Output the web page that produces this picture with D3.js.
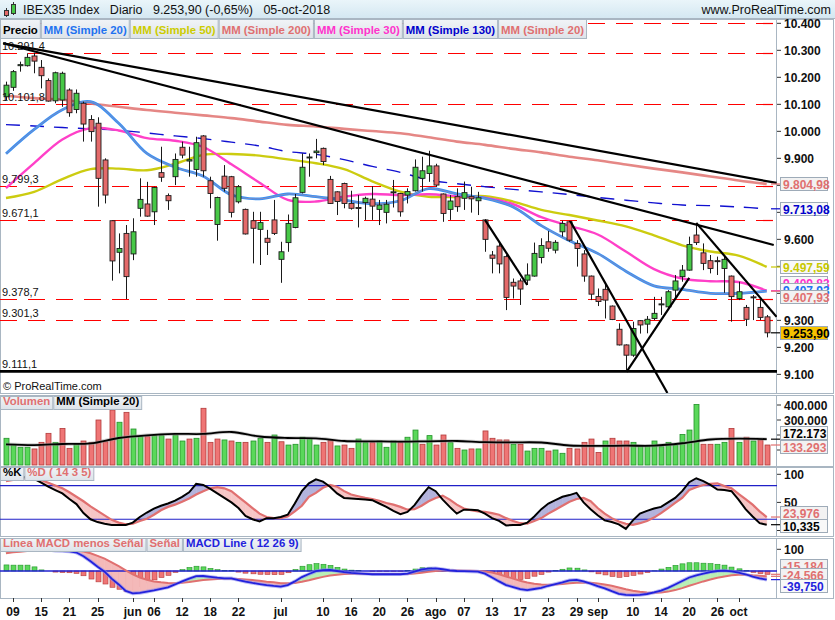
<!DOCTYPE html>
<html>
<head>
<meta charset="utf-8">
<script src="https://cdn.jsdelivr.net/npm/d3@7"></script>
<style>
body { margin: 0; background: #fff; }
svg { display: block; font-family: Arial, "Liberation Sans", sans-serif; }
</style>
</head>
<body>
<div id="chart"></div>
<script>
// trading days shown, 8 may -> 5 oct 2018
var dates = ["05-08","05-09","05-10","05-11","05-14","05-15","05-16","05-17","05-18","05-21","05-22","05-23","05-24","05-25","05-28","05-29","05-30","05-31",
  "06-01","06-04","06-05","06-06","06-07","06-08","06-11","06-12","06-13","06-14","06-15","06-18","06-19","06-20","06-21","06-22","06-25","06-26","06-27","06-28","06-29",
  "07-02","07-03","07-04","07-05","07-06","07-09","07-10","07-11","07-12","07-13","07-16","07-17","07-18","07-19","07-20","07-23","07-24","07-25","07-26","07-27","07-30","07-31",
  "08-01","08-02","08-03","08-06","08-07","08-08","08-09","08-10","08-13","08-14","08-15","08-16","08-17","08-20","08-21","08-22","08-23","08-24","08-27","08-28","08-29","08-30","08-31",
  "09-03","09-04","09-05","09-06","09-07","09-10","09-11","09-12","09-13","09-14","09-17","09-18","09-19","09-20","09-21","09-24","09-25","09-26","09-27","09-28",
  "10-01","10-02","10-03","10-04","10-05"];

var tickDates  = ["05-09","05-15","05-21","05-25","06-01","06-06","06-12","06-18","06-22","07-02","07-10","07-16","07-20","07-26","08-01","08-07","08-13","08-17","08-23","08-29","09-03","09-10","09-14","09-20","09-26","10-01"];
var tickLabels = ["09","15","21","25","jun","06","12","18","22","jul","10","16","20","26","ago","07","13","17","23","29","sep","10","14","20","26","oct"];

var open  = [10128,10163,10243,10243,10279,10237,10188,10113,10116,10153,10081,10104,10044,10030,9894,9669,9552,9622,9546,9715,9731,9702,9847,9762,9832,9941,9890,9859,9983,9817,9655,9834,9832,9739,9711,9669,9637,9604,9672,9526,9588,9644,9774,9903,9921,9937,9822,9776,9807,9733,9718,9736,9749,9711,9700,9775,9770,9764,9780,9826,9844,9872,9768,9711,9758,9752,9758,9743,9672,9542,9575,9536,9441,9446,9449,9464,9533,9591,9560,9628,9665,9585,9546,9464,9388,9415,9353,9267,9209,9171,9299,9286,9307,9359,9350,9412,9462,9486,9616,9550,9521,9521,9492,9464,9381,9348,9387,9348,9313];
var high  = [10184,10227,10258,10289,10291,10264,10196,10221,10221,10159,10155,10110,10060,10052,9900,9669,9622,9653,9678,9826,9813,9795,9943,9770,9918,9962,9943,9980,9986,9832,9758,9875,9835,9801,9714,9702,9702,9635,9746,9591,9692,9768,9918,9918,9972,9940,9835,9778,9810,9780,9764,9758,9797,9746,9746,9820,9772,9789,9896,9906,9928,9880,9770,9764,9789,9814,9795,9776,9674,9557,9591,9542,9455,9455,9511,9588,9604,9631,9597,9669,9669,9597,9560,9466,9418,9431,9355,9289,9211,9295,9301,9316,9387,9387,9412,9468,9505,9610,9659,9585,9542,9536,9538,9466,9443,9357,9394,9381,9320];
var low   = [10116,10150,10221,10240,10215,10159,10110,10104,10091,10054,10067,9962,9962,9721,9733,9447,9474,9379,9523,9684,9684,9653,9813,9709,9801,9900,9832,9832,9832,9715,9595,9777,9681,9733,9618,9511,9505,9542,9616,9439,9554,9641,9770,9832,9900,9875,9731,9690,9715,9710,9644,9672,9672,9653,9659,9718,9684,9733,9777,9777,9813,9795,9665,9672,9702,9709,9699,9690,9554,9474,9474,9338,9381,9357,9431,9462,9511,9554,9548,9610,9591,9499,9443,9375,9353,9307,9301,9207,9111,9165,9251,9252,9301,9320,9338,9381,9443,9484,9579,9486,9474,9468,9402,9295,9375,9279,9301,9301,9237];
var close = [10171,10221,10247,10274,10260,10206,10112,10217,10215,10069,10141,10027,9999,9826,9764,9520,9566,9462,9628,9748,9686,9792,9830,9743,9896,9912,9895,9958,9854,9770,9755,9789,9700,9795,9620,9641,9662,9589,9622,9554,9659,9754,9867,9905,9927,9888,9733,9740,9733,9715,9717,9752,9723,9727,9730,9776,9702,9777,9867,9854,9872,9801,9696,9742,9721,9773,9750,9754,9600,9530,9509,9385,9427,9416,9468,9548,9577,9567,9589,9659,9597,9566,9464,9397,9370,9375,9303,9209,9171,9270,9283,9304,9326,9361,9406,9446,9486,9581,9588,9511,9492,9520,9526,9388,9406,9304,9385,9311,9253.9];

// volume, thousands
var volume = [178,138,118,118,107,151,211,151,244,111,138,160,151,300,155,367,285,351,240,189,189,196,196,173,200,160,173,178,378,151,173,167,160,151,151,160,178,151,200,155,133,138,185,178,133,151,164,127,133,111,173,149,149,160,118,160,149,185,233,138,196,133,200,149,111,100,107,107,227,178,167,167,138,138,93,111,111,93,100,78,111,107,151,173,84,160,178,160,160,151,129,129,160,122,151,133,204,233,404,138,138,138,151,244,151,185,160,167,133.293];

// moving averages read every 4th session (0,4,...,108)
var maStep = 4;
var ma20  = [9917,10007,10080,10110,10030,9918,9867,9834,9765,9750,9768,9758,9745,9732,9743,9788,9768,9752,9720,9651,9595,9548,9482,9428,9415,9400,9400,9408];
var ma30  = [9790,9882,9970,10012,10003,9975,9965,9942,9878,9810,9746,9740,9758,9768,9764,9767,9760,9754,9730,9682,9650,9618,9555,9490,9455,9445,9442,9410];
var ma50  = [9753,9776,9823,9860,9862,9856,9880,9913,9916,9910,9896,9882,9860,9815,9777,9758,9757,9760,9740,9709,9690,9670,9648,9615,9578,9555,9540,9498];
var ma130 = [10025,10020,10014,10009,10004,9994,9983,9973,9960,9946,9925,9915,9895,9870,9848,9820,9806,9795,9785,9776,9766,9755,9745,9735,9727,9725,9720,9713];
var ma200 = [10132,10123,10117,10103,10091,10079,10069,10059,10049,10036,10024,10018,10009,10001,9993,9978,9962,9950,9935,9922,9906,9893,9877,9862,9848,9833,9818,9805];
var volMa = [138,133,140,144,180,198,207,207,220,190,180,178,160,158,156,158,160,152,151,150,130,127,129,129,145,170,176,172.173];

var stochK = [92,95,93,96,92,85,78,72,66,56,47,31,20,15,12,10,10,10,14,24,32,39,44,48,53,60,68,83,81,74,66,58,50,40,26,20,16,22,22,24,28,48,70,84,91,87,78,66,58,57,56,55,54,48,42,35,29,33,45,62,77,70,55,42,30,37,37,36,30,22,17,9,10,10,14,25,38,48,54,60,63,67,50,38,27,18,15,11,3,18,30,35,39,42,50,58,70,86,93,88,81,73,72,70,55,38,25,13,10.335];
var stochD = [88,90,92,93,94,90,85,80,75,68,60,52,43,35,27,19,14,11,12,17,21,28,36,42,46,51,57,64,70,75,77,75,70,60,50,40,30,24,22,22,25,34,44,60,67,76,81,78,70,64,61,58,56,53,49,46,42,37,38,44,52,58,62,55,46,39,36,34,33,31,28,22,17,13,12,17,22,30,37,44,51,56,58,52,40,30,22,16,12,10,13,17,23,31,40,49,58,72,77,81,83,84,79,75,65,56,46,34,23.976];

var macdLine = [110,113,116,119,114,102,98,94,92,90,85,68,45,20,-3,-35,-62,-92,-103,-101,-95,-89,-82,-75,-62,-48,-35,-24,-23,-27,-31,-34,-34,-42,-49,-55,-60,-65,-69,-72,-65,-48,-28,-14,-1,4,5,0,-5,-9,-11,-13,-15,-15,-15,-15,-15,-12,-3,7,11,12,8,3,0,-1,-2,-3,-12,-30,-48,-65,-74,-84,-88,-83,-78,-68,-60,-52,-43,-41,-48,-58,-70,-80,-93,-105,-110,-111,-110,-106,-99,-90,-78,-62,-46,-30,-20,-12,-5,0,2,-2,-7,-15,-26,-34,-39.75];
var macdSignal = [82,86,89,92,95,97,98,99,99,98,96,90,82,70,57,40,22,3,-16,-30,-40,-48,-52,-55,-56,-54,-51,-46,-42,-39,-37,-36,-36,-37,-39,-42,-45,-49,-52,-56,-57,-55,-50,-43,-35,-27,-21,-17,-14,-13,-13,-13,-14,-14,-14,-14,-14,-14,-12,-8,-4,0,2,2,2,1,1,0,-2,-7,-15,-25,-35,-45,-53,-59,-62,-63,-62,-60,-57,-54,-53,-54,-57,-62,-68,-76,-84,-91,-96,-99,-100,-99,-95,-88,-79,-68,-58,-48,-39,-31,-25,-20,-17,-17,-20,-22,-24.566];
var macdHist = [28,27,27,27,19,5,0,-5,-7,-8,-11,-22,-37,-50,-60,-75,-84,-95,-87,-71,-55,-41,-30,-20,-6,6,16,22,19,12,6,2,2,-5,-10,-13,-15,-16,-17,-16,-8,7,22,29,34,31,26,17,9,4,2,0,-1,-1,-1,-1,-1,2,9,15,15,12,6,1,-2,-2,-3,-3,-10,-23,-33,-40,-39,-39,-35,-24,-16,-5,2,8,14,13,5,-4,-13,-18,-25,-29,-26,-20,-14,-7,1,9,17,26,33,38,38,36,34,31,27,18,10,2,-6,-12,-15.184];

// support / resistance levels and trendlines [session, price, session, price]
var levels = [10291.4, 10101.8, 9799.3, 9671.1, 9378.7, 9301.3];
var levelLabels = ["10.291,4", "10.101,8", "9.799,3", "9.671,1", "9.378,7", "9.301,3"];
var floorLevel = 9111.1, floorLabel = "9.111,1";
var trendlines = [[-0.4,10326,109.4,9809],[-0.4,10326,109,9579],[68,9672,74,9431],[80.1,9668,93.9,9031],[88.1,9109,97,9457],[98,9661,109.4,9313]];

// axis ticks; labels only where no value box covers them
var priceTicks = [9100,9200,9300,9400,9500,9600,9700,9800,9900,10000,10100,10200,10300,10400];
var priceTickLabels = [9100,9200,9300,9600,9900,10000,10100,10200,10300,10400];
var volTicks = [100,200,300,400], volTickLabels = [300,400];
var stochTicks = [0,50,100], stochTickLabels = [50,100];
var macdTicks = [100];

var W = 835, H = 620, plotR = 777;
var RED = "#e46a6a", GREEN = "#47c847";

var svg = d3.select("#chart").append("svg").attr("width", W).attr("height", H);

var x = d3.scalePoint().domain(dates).range([6, 766.7]);
function xi(i) { return 6 + i * (766.7 - 6) / (dates.length - 1); }

var yP = d3.scaleLinear().domain([9031, 10416]).range([393, 19]);
var yV = d3.scaleLinear().domain([0, 400]).range([465, 405]);
var yS = d3.scaleLinear().domain([0, 100]).range([530.5, 474.3]);
var yM = d3.scaleLinear().domain([-100, 100]).range([592.7, 549.3]);

var deFmt = d3.formatLocale({decimal: ",", thousands: ".", grouping: [3], currency: ["", ""]});
var fmt0 = deFmt.format(",.0f");

var defs = svg.append("defs");
var hg = defs.append("linearGradient").attr("id", "hdr").attr("x1", 0).attr("x2", 0).attr("y1", 0).attr("y2", 1);
hg.append("stop").attr("offset", 0).attr("stop-color", "#eaf5fa");
hg.append("stop").attr("offset", 1).attr("stop-color", "#d3e7f1");
var lg = defs.append("linearGradient").attr("id", "leg").attr("x1", 0).attr("x2", 0).attr("y1", 0).attr("y2", 1);
lg.append("stop").attr("offset", 0).attr("stop-color", "#f1f4f7");
lg.append("stop").attr("offset", 1).attr("stop-color", "#dde3e9");

function clip(id, top, bottom) {
  defs.append("clipPath").attr("id", id).append("rect")
    .attr("x", 0).attr("y", top).attr("width", plotR).attr("height", bottom - top);
}
clip("cp", 19, 393); clip("cv", 395, 466); clip("cs", 467, 536); clip("cm", 538, 598);

// header
svg.append("rect").attr("width", W).attr("height", 19).attr("fill", "url(#hdr)");
svg.append("line").attr("x1", 0).attr("x2", W).attr("y1", 18.5).attr("y2", 18.5).attr("stroke", "#a9b6c2");
svg.append("line").attr("x1", 6.5).attr("x2", 6.5).attr("y1", 8).attr("y2", 17).attr("stroke", "#333");
svg.append("rect").attr("x", 4.5).attr("y", 10.5).attr("width", 4).attr("height", 5).attr("fill", RED).attr("stroke", "#333");
svg.append("line").attr("x1", 13.5).attr("x2", 13.5).attr("y1", 2).attr("y2", 15).attr("stroke", "#333");
svg.append("rect").attr("x", 11.5).attr("y", 4.5).attr("width", 4).attr("height", 9).attr("fill", GREEN).attr("stroke", "#333");
svg.append("text").attr("x", 23).attr("y", 14).attr("font-size", 12.5).attr("fill", "#111").attr("xml:space", "preserve")
  .text("IBEX35 Index   Diario   9.253,90 (-0,65%)   05-oct-2018");
svg.append("text").attr("x", 831).attr("y", 14).attr("font-size", 12.5).attr("fill", "#111").attr("text-anchor", "end")
  .text("www.ProRealTime.com");

// panel frames
var panels = [[19, 393], [395, 466], [467, 536], [538, 598]];
panels.forEach(function(p) {
  svg.append("rect").attr("x", 0.5).attr("y", p[0] + 0.5).attr("width", 833).attr("height", p[1] - p[0])
    .attr("fill", "#fff").attr("stroke", "#a9b6c2");
  svg.append("line").attr("x1", plotR - 0.5).attr("x2", plotR - 0.5).attr("y1", p[0]).attr("y2", p[1] + 1)
    .attr("stroke", "#a9b6c2");
});

// ---------- price panel ----------
var gp = svg.append("g").attr("clip-path", "url(#cp)");

gp.selectAll(".lvl").data([10400].concat(levels)).enter().append("line")
  .attr("x1", 0).attr("x2", plotR)
  .attr("y1", function(d) { return Math.round(yP(d)) + 0.5; })
  .attr("y2", function(d) { return Math.round(yP(d)) + 0.5; })
  .attr("stroke", "#ff0000").attr("stroke-width", 1.2).attr("stroke-dasharray", "17,11");

gp.append("line").attr("x1", 0).attr("x2", plotR).attr("y1", yP(floorLevel)).attr("y2", yP(floorLevel))
  .attr("stroke", "#000").attr("stroke-width", 2.6);

function maPath(arr, yScale) {
  return d3.line().curve(d3.curveCatmullRom)
    .x(function(d, i) { return xi(i * maStep); })
    .y(function(d) { return yScale(d); })(arr);
}
gp.append("path").attr("d", maPath(ma200, yP)).attr("fill", "none").attr("stroke", "#e27a78").attr("stroke-width", 2.6).attr("stroke-opacity", 0.9);
gp.append("path").attr("d", maPath(ma130, yP)).attr("fill", "none").attr("stroke", "#1010d0").attr("stroke-width", 1.4).attr("stroke-dasharray", "14,10");
gp.append("path").attr("d", maPath(ma50, yP)).attr("fill", "none").attr("stroke", "#cccc10").attr("stroke-width", 2.4);
gp.append("path").attr("d", maPath(ma30, yP)).attr("fill", "none").attr("stroke", "#ff40c8").attr("stroke-width", 2.4);
gp.append("path").attr("d", maPath(ma20, yP)).attr("fill", "none").attr("stroke", "#3690f5").attr("stroke-width", 2.8);
gp.append("path").attr("d", maPath(ma20, yP)).attr("fill", "none").attr("stroke", "#e08a80").attr("stroke-width", 0.8).attr("stroke-opacity", 0.55);

// candles
var cw = 5;
var candles = gp.selectAll(".candle").data(dates).enter().append("g");
candles.append("line")
  .attr("x1", function(d) { return Math.round(x(d)) + 0.5; })
  .attr("x2", function(d) { return Math.round(x(d)) + 0.5; })
  .attr("y1", function(d, i) { return yP(high[i]); })
  .attr("y2", function(d, i) { return yP(low[i]); })
  .attr("stroke", "#1a1a1a");
candles.append("rect")
  .attr("x", function(d) { return Math.round(x(d)) - 2; })
  .attr("y", function(d, i) { return yP(Math.max(open[i], close[i])); })
  .attr("width", cw)
  .attr("height", function(d, i) { return Math.max(1, Math.abs(yP(open[i]) - yP(close[i]))); })
  .attr("fill", function(d, i) { return close[i] >= open[i] ? GREEN : RED; })
  .attr("stroke", "#1a1a1a").attr("stroke-width", 0.9);

gp.selectAll(".trend").data(trendlines).enter().append("line")
  .attr("x1", function(d) { return xi(d[0]); }).attr("y1", function(d) { return yP(d[1]); })
  .attr("x2", function(d) { return xi(d[2]); }).attr("y2", function(d) { return yP(d[3]); })
  .attr("stroke", "#000").attr("stroke-width", 2.2);

svg.selectAll(".lvlLabel").data(levels.concat([floorLevel])).enter().append("text")
  .attr("x", 2).attr("y", function(d) { return yP(d) - 3; })
  .attr("font-size", 11).attr("fill", "#111")
  .text(function(d, i) { return i < levelLabels.length ? levelLabels[i] : floorLabel; });

svg.append("text").attr("x", 3).attr("y", 390).attr("font-size", 11).attr("fill", "#111").text("\u00a9 ProRealTime.com");

// legend boxes
function legend(items, x0, y0, h, fs) {
  var xx = x0;
  items.forEach(function(it) {
    var t = svg.append("text").attr("x", xx + 3).attr("y", y0 + h - 4).attr("font-size", fs)
      .attr("font-weight", "bold").attr("fill", it[1]).text(it[0]);
    var w = t.node().getComputedTextLength() + 5;
    svg.insert("rect", function() { return t.node(); }).attr("x", xx + 0.5).attr("y", y0 + 0.5)
      .attr("width", w).attr("height", h).attr("fill", "url(#leg)").attr("stroke", "#a9b6c2");
    xx += w + 1;
  });
}
legend([["Precio", "#000"], ["MM (Simple 20)", "#1f73f0"], ["MM (Simple 50)", "#cccc00"], ["MM (Simple 200)", "#e07070"],
  ["MM (Simple 30)", "#ff33cc"], ["MM (Simple 130)", "#0000cc"], ["MM (Simple 20)", "#e07070"]], 0, 19, 19, 11.4);

// right axes
function rightAxis(ticks, labels, yScale, fmt) {
  svg.append("g").selectAll("line").data(ticks).enter().append("line")
    .attr("x1", plotR).attr("x2", plotR + 4)
    .attr("y1", function(d) { return yScale(d); }).attr("y2", function(d) { return yScale(d); })
    .attr("stroke", "#333");
  svg.append("g").selectAll("text").data(labels).enter().append("text")
    .attr("x", 784).attr("y", function(d) { return yScale(d) + 4.5; })
    .attr("font-size", 12).attr("font-weight", "bold").attr("fill", "#111")
    .text(fmt);
}
rightAxis(priceTicks, priceTickLabels, yP, function(d) { return fmt0(d); });

function valueBox(text, cy, color, fill, tickY) {
  if (tickY !== undefined) {
    svg.append("line").attr("x1", plotR - 6).attr("x2", plotR + 4).attr("y1", tickY).attr("y2", tickY)
      .attr("stroke", color).attr("stroke-width", 1.2);
  }
  svg.append("rect").attr("x", 780.5).attr("y", Math.round(cy - 7) + 0.5).attr("width", 47).attr("height", 13)
    .attr("fill", fill).attr("stroke", "#9eabb8");
  svg.append("text").attr("x", 783).attr("y", Math.round(cy - 7) + 11.5).attr("font-size", 12)
    .attr("font-weight", "bold").attr("fill", color).text(text);
}
valueBox("9.804,98", yP(9804.98), "#e07070", "#f2f2f2", yP(9804.98));
valueBox("9.713,08", yP(9713.08), "#0000cc", "#f8f8f8", yP(9713.08));
valueBox("9.497,59", yP(9497.59), "#c8c800", "#f8f8f8", yP(9497.59));
valueBox("9.409,83", 282.5, "#ff33cc", "#f8f8f8", yP(9409.83));
valueBox("9.407,93", 289.5, "#1f73f0", "#f8f8f8");
valueBox("9.407,93", 296.5, "#e07070", "#f2f2f2", yP(9407.93));
valueBox("9.253,90", yP(9253.9), "#000", "#f7c300", yP(9253.9));

// ---------- volume panel ----------
function upDay(i) { return i === 0 ? close[0] >= open[0] : close[i] >= close[i - 1]; }
var gv = svg.append("g").attr("clip-path", "url(#cv)");
gv.selectAll(".vol").data(dates).enter().append("rect")
  .attr("x", function(d) { return Math.round(x(d)) - 2; })
  .attr("y", function(d, i) { return yV(volume[i]); })
  .attr("width", cw)
  .attr("height", function(d, i) { return yV(0) - yV(volume[i]); })
  .attr("fill", function(d, i) { return upDay(i) ? "#5ad85a" : "#ef7575"; })
  .attr("stroke", function(d, i) { return upDay(i) ? "#23922a" : "#b23a3a"; })
  .attr("stroke-width", 0.8);
gv.append("path").attr("d", maPath(volMa, yV)).attr("fill", "none").attr("stroke", "#999").attr("stroke-width", 3.5).attr("stroke-opacity", 0.5);
gv.append("path").attr("d", maPath(volMa, yV)).attr("fill", "none").attr("stroke", "#000").attr("stroke-width", 1.8);
legend([["Volumen", "#e07070"], ["MM (Simple 20)", "#000"]], 0, 396, 13, 11.4);

rightAxis(volTicks, volTickLabels, yV, function(d) { return fmt0(d * 1000); });
valueBox("172.173", 433, "#000", "#f8f8f8", yV(172.173));
valueBox("133.293", 447, "#e07070", "#f2f2f2", yV(133.293));

// ---------- fill between two series ----------
function fillBetween(g, a, b, yScale, posColor, negColor) {
  for (var i = 0; i < a.length - 1; i++) {
    var x0 = xi(i), x1 = xi(i + 1);
    var d0 = a[i] - b[i], d1 = a[i + 1] - b[i + 1];
    var polys = [];
    if (d0 * d1 >= 0) {
      polys.push([[[x0, a[i]], [x1, a[i + 1]], [x1, b[i + 1]], [x0, b[i]]], d0 + d1 >= 0]);
    } else {
      var t = d0 / (d0 - d1), xm = x0 + t * (x1 - x0), vm = a[i] + t * (a[i + 1] - a[i]);
      polys.push([[[x0, a[i]], [xm, vm], [x0, b[i]]], d0 > 0]);
      polys.push([[[xm, vm], [x1, a[i + 1]], [x1, b[i + 1]]], d1 > 0]);
    }
    polys.forEach(function(p) {
      var c = p[1] ? posColor : negColor;
      g.append("polygon")
        .attr("points", p[0].map(function(q) { return q[0] + "," + yScale(q[1]); }).join(" "))
        .attr("fill", c).attr("stroke", c).attr("stroke-width", 0.6);
    });
  }
}
function seriesPath(arr, yScale) {
  return d3.line().x(function(d, i) { return xi(i); }).y(function(d) { return yScale(d); })(arr);
}

// ---------- stochastic panel ----------
var gs = svg.append("g").attr("clip-path", "url(#cs)");
fillBetween(gs, stochK, stochD, yS, "#b3b3dc", "#f6c6c6");
gs.selectAll(".sl").data([80, 20]).enter().append("line")
  .attr("x1", 0).attr("x2", plotR).attr("y1", function(d) { return yS(d); }).attr("y2", function(d) { return yS(d); })
  .attr("stroke", "#2020c8").attr("stroke-width", 1.2);
gs.append("path").attr("d", seriesPath(stochD, yS)).attr("fill", "none").attr("stroke", "#e07070").attr("stroke-width", 2.2);
gs.append("path").attr("d", seriesPath(stochK, yS)).attr("fill", "none").attr("stroke", "#000").attr("stroke-width", 2);
legend([["%K", "#000"], ["%D ( 14 3 5)", "#e07070"]], 0, 467, 13, 11.4);

rightAxis(stochTicks, stochTickLabels, yS, function(d) { return d; });
valueBox("23,976", 513, "#e07070", "#f2f2f2", yS(23.976));
valueBox("10,335", 526, "#000", "#f8f8f8", yS(10.335));

// ---------- MACD panel ----------
var gm = svg.append("g").attr("clip-path", "url(#cm)");
gm.selectAll(".hist").data(dates).enter().append("rect")
  .attr("x", function(d) { return Math.round(x(d)) - 2; })
  .attr("y", function(d, i) { return Math.min(yM(0), yM(macdHist[i])); })
  .attr("width", cw)
  .attr("height", function(d, i) { return Math.abs(yM(macdHist[i]) - yM(0)); })
  .attr("fill", function(d, i) { return macdHist[i] >= 0 ? "#5ad85a" : "#ef7575"; })
  .attr("stroke", function(d, i) { return macdHist[i] >= 0 ? "#23922a" : "#b23a3a"; })
  .attr("stroke-width", 0.6);
fillBetween(gm, macdLine, macdSignal, yM, "#b9efb5", "#f4b9b9");
gm.append("line").attr("x1", 0).attr("x2", plotR).attr("y1", yM(0)).attr("y2", yM(0)).attr("stroke", "#2020d0").attr("stroke-width", 1.6);
gm.append("path").attr("d", seriesPath(macdSignal, yM)).attr("fill", "none").attr("stroke", "#e07070").attr("stroke-width", 2);
gm.append("path").attr("d", seriesPath(macdLine, yM)).attr("fill", "none").attr("stroke", "#8a8af0").attr("stroke-width", 3.6).attr("stroke-opacity", 0.6);
gm.append("path").attr("d", seriesPath(macdLine, yM)).attr("fill", "none").attr("stroke", "#2222dd").attr("stroke-width", 1.8);
legend([["L\u00ednea MACD menos Se\u00f1al", "#e07070"], ["Se\u00f1al", "#e07070"], ["MACD Line ( 12 26 9)", "#2222dd"]], 0, 538, 13, 11.4);

rightAxis(macdTicks, macdTicks, yM, function(d) { return d; });
valueBox("-15,184", 566, "#e07070", "#f2f2f2", yM(-15.184));
valueBox("-24,566", 575, "#e07070", "#f2f2f2", yM(-24.566));
valueBox("-39,750", 585.5, "#2222dd", "#f8f8f8", yM(-39.75));

// ---------- x axis ----------
svg.selectAll(".xt").data(tickDates).enter().append("line")
  .attr("x1", function(d) { return Math.round(x(d)) + 0.5; })
  .attr("x2", function(d) { return Math.round(x(d)) + 0.5; })
  .attr("y1", 598).attr("y2", 602).attr("stroke", "#333");
svg.selectAll(".xtl").data(tickDates).enter().append("text")
  .attr("x", function(d) { return x(d); }).attr("y", 616)
  .attr("text-anchor", "middle").attr("font-size", 12).attr("font-weight", "bold").attr("fill", "#111")
  .text(function(d, i) { return tickLabels[i]; });
</script>
</body>
</html>
